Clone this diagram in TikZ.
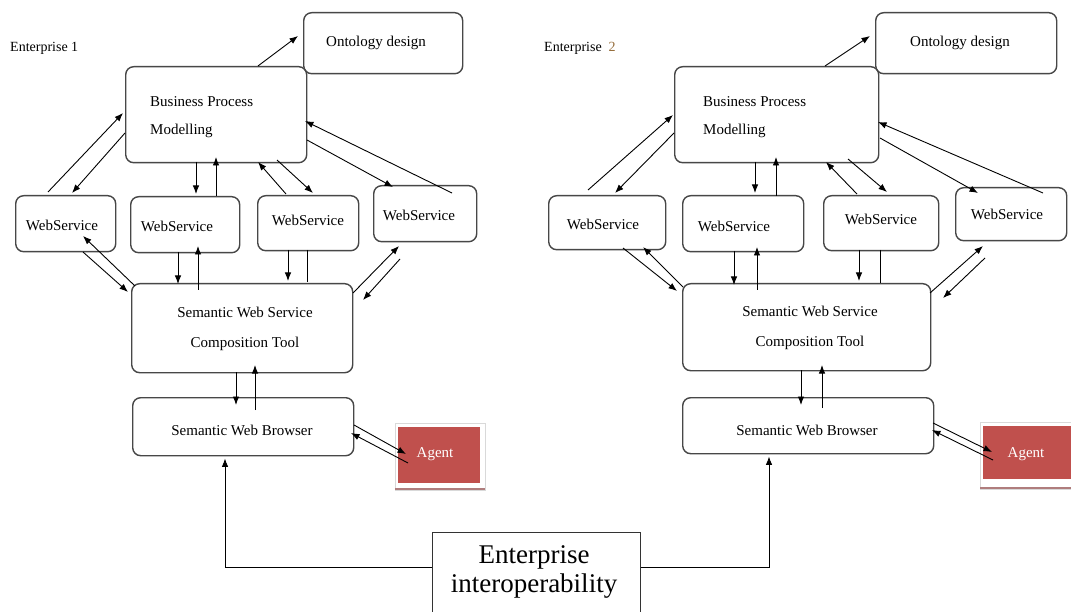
\documentclass[tikz,border=0pt]{standalone}
\usepackage{fontspec}
\setmainfont{Liberation Serif}
\usetikzlibrary{arrows.meta,calc}
\definecolor{agentred}{RGB}{192,80,77}
\definecolor{shadowred}{RGB}{175,125,125}
\definecolor{digitcol}{RGB}{150,110,60}
\begin{document}
\begin{tikzpicture}[x=1pt,y=-1pt,
  box/.style={draw=black!72, line width=1.4pt, rounded corners=8pt, inner sep=0pt, anchor=north west},
  agentbox/.style={fill=agentred, draw=none, inner sep=0pt, anchor=north west},
  eibox/.style={draw=black!80, line width=1.3pt, fill=white, inner sep=0pt, anchor=north west},
  lbl/.style={font=\fontsize{15}{18}\selectfont, inner sep=0pt, anchor=base},
  lblw/.style={lbl, anchor=base west},
  big/.style={font=\fontsize{27}{32}\selectfont, inner sep=0pt, anchor=base},
  arr/.style={-{Latex[length=8.5pt,width=6.5pt]}, line width=0.9pt},
  ln/.style={line width=0.9pt}]
\useasboundingbox (0,0) rectangle (1071,612);
\fill[white] (0,0) rectangle (1071,612);

% agent shadows
\draw[black!15, fill=white] (395,423) rectangle (485,490);
\draw[shadowred, line width=1.5pt] (395,489) -- (485,489);
\draw[black!15, fill=white] (980,422) rectangle (1075,489);
\draw[shadowred, line width=1.5pt] (980,488) -- (1075,488);

% ---------- Enterprise 1 ----------
\node[box, minimum width=159pt, minimum height=61pt] (ontA) at (303,12) {};
\node[box, minimum width=181pt, minimum height=96pt] (bpmA) at (125,66) {};
\node[box, minimum width=100pt, minimum height=56pt] (ws1A) at (15,195) {};
\node[box, minimum width=109pt, minimum height=56pt] (ws2A) at (130,196) {};
\node[box, minimum width=101pt, minimum height=55pt] (ws3A) at (257,195) {};
\node[box, minimum width=103pt, minimum height=56pt] (ws4A) at (373,185) {};
\node[box, minimum width=221pt, minimum height=89pt] (swsA) at (131,283) {};
\node[box, minimum width=221pt, minimum height=58pt] (swbA) at (132,397) {};
\node[agentbox, minimum width=82pt, minimum height=56pt] (agA) at (398,427) {};

\node[lblw, font=\fontsize{14}{17}\selectfont] (e1) at (10,52) {Enterprise 1};
\node[lbl] (ontAt) at (376,47) {Ontology design};
\node[lblw] (bpmAt1) at (150,107) {Business Process};
\node[lblw] (bpmAt2) at (150,135) {Modelling};
\node[lbl] (ws1At) at (62,231) {WebService};
\node[lbl] (ws2At) at (177,232) {WebService};
\node[lbl] (ws3At) at (308,226) {WebService};
\node[lbl] (ws4At) at (419,221) {WebService};
\node[lbl] (swsAt1) at (245,318) {Semantic Web Service};
\node[lbl] (swsAt2) at (245,348) {Composition Tool};
\node[lbl] (swbAt) at (242,435) {Semantic Web Browser};
\node[lbl, text=white] (agAt) at (435,457) {Agent};

% ---------- Enterprise 2 ----------
\node[box, minimum width=181pt, minimum height=61pt] (ontB) at (875,12) {};
\node[box, minimum width=204pt, minimum height=96pt] (bpmB) at (674,66) {};
\node[box, minimum width=117pt, minimum height=54pt] (ws1B) at (548,195) {};
\node[box, minimum width=121pt, minimum height=56pt] (ws2B) at (682,195) {};
\node[box, minimum width=115pt, minimum height=55pt] (ws3B) at (823,195) {};
\node[box, minimum width=111pt, minimum height=53pt] (ws4B) at (955,187) {};
\node[box, minimum width=248pt, minimum height=87pt] (swsB) at (682,283) {};
\node[box, minimum width=251pt, minimum height=56pt] (swbB) at (682,397) {};
\node[agentbox, minimum width=100pt, minimum height=53pt] (agB) at (983,426) {};

\node[lblw, font=\fontsize{14}{17}\selectfont] (e2) at (544,52) {Enterprise\ \ \textcolor{digitcol}{2}};
\node[lbl] (ontBt) at (960,47) {Ontology design};
\node[lblw] (bpmBt1) at (703,107) {Business Process};
\node[lblw] (bpmBt2) at (703,135) {Modelling};
\node[lbl] (ws1Bt) at (603,230) {WebService};
\node[lbl] (ws2Bt) at (734,232) {WebService};
\node[lbl] (ws3Bt) at (881,225) {WebService};
\node[lbl] (ws4Bt) at (1007,220) {WebService};
\node[lbl] (swsBt1) at (810,317) {Semantic Web Service};
\node[lbl] (swsBt2) at (810,347) {Composition Tool};
\node[lbl] (swbBt) at (807,435) {Semantic Web Browser};
\node[lbl, text=white] (agBt) at (1026,457) {Agent};

% ---------- Enterprise interoperability ----------
\node[eibox, minimum width=208pt, minimum height=95pt] (ei) at (432,532) {};
\node[big] (eit1) at (534,563) {Enterprise};
\node[big] (eit2) at (534,592) {interoperability};

% ---------- connectors, Enterprise 1 ----------
\draw[arr] ($(bpmA.north west)+(133,0)$) -- ($(ontA.north west)+(-5,24)$);
\draw[arr] ($(ws1A.north west)+(33,-3)$) -- ($(bpmA.north west)+(-2,47)$);
\draw[arr] ($(bpmA.north west)+(0,67)$) -- ($(ws1A.north west)+(57,-2)$);
\draw[arr] ($(bpmA.north west)+(71,96)$) -- ($(ws2A.north west)+(66,-2)$);
\draw[arr] ($(ws2A.north west)+(86,0)$) -- ($(bpmA.north west)+(91,91)$);
\draw[arr] ($(ws3A.north west)+(29,-1)$) -- ($(bpmA.north west)+(133,96)$);
\draw[arr] ($(bpmA.north west)+(152,94)$) -- ($(ws3A.north west)+(56,-2)$);
\draw[arr] ($(bpmA.north west)+(182,74)$) -- ($(ws4A.north west)+(20,2)$);
\draw[arr] ($(ws4A.north west)+(79,8)$) -- ($(bpmA.north west)+(180,55)$);
\draw[arr] ($(ws1A.north west)+(68,57)$) -- ($(swsA.north west)+(-3,9)$);
\draw[arr] ($(swsA.north west)+(4,3)$) -- ($(ws1A.north west)+(68,41)$);
\draw[arr] ($(ws2A.north west)+(48,56)$) -- ($(swsA.north west)+(47,1)$);
\draw[arr] ($(swsA.north west)+(67,7)$) -- ($(ws2A.north west)+(68,50)$);
\draw[arr] ($(ws3A.north west)+(31,55)$) -- ($(swsA.north west)+(157,-2)$);
\draw[ln]  ($(ws3A.north west)+(50,55)$) -- ($(swsA.north west)+(176,-1)$);
\draw[arr] ($(swsA.north west)+(222,10)$) -- ($(ws4A.north west)+(26,61)$);
\draw[arr] ($(ws4A.north west)+(27,74)$) -- ($(swsA.north west)+(232,17)$);
\draw[arr] ($(swsA.north west)+(105,89)$) -- ($(swbA.north west)+(104,8)$);
\draw[arr] ($(swbA.north west)+(123,13)$) -- ($(swsA.north west)+(124,82)$);
\draw[arr] ($(swbA.north west)+(222,28)$) -- ($(agA.north west)+(8,27)$);
\draw[arr] ($(agA.north west)+(10,36)$) -- ($(swbA.north west)+(219,36)$);

% ---------- connectors, Enterprise 2 ----------
\draw[arr] ($(bpmB.north west)+(151,0)$) -- ($(ontB.north west)+(-5,24)$);
\draw[arr] ($(ws1B.north west)+(40,-5)$) -- ($(bpmB.north west)+(-1,49)$);
\draw[arr] ($(bpmB.north west)+(0,67)$) -- ($(ws1B.north west)+(67,-2)$);
\draw[arr] ($(bpmB.north west)+(81,96)$) -- ($(ws2B.north west)+(73,-2)$);
\draw[arr] ($(ws2B.north west)+(94,1)$) -- ($(bpmB.north west)+(102,91)$);
\draw[arr] ($(ws3B.north west)+(34,-1)$) -- ($(bpmB.north west)+(152,96)$);
\draw[arr] ($(bpmB.north west)+(174,93)$) -- ($(ws3B.north west)+(64,-3)$);
\draw[arr] ($(bpmB.north west)+(206,72)$) -- ($(ws4B.north west)+(23,6)$);
\draw[arr] ($(ws4B.north west)+(88,6)$) -- ($(bpmB.north west)+(204,56)$);
\draw[arr] ($(ws1B.north west)+(75,53)$) -- ($(swsB.north west)+(-5,8)$);
\draw[arr] ($(swsB.north west)+(1,4)$) -- ($(ws1B.north west)+(95,52)$);
\draw[arr] ($(ws2B.north west)+(52,56)$) -- ($(swsB.north west)+(52,2)$);
\draw[arr] ($(swsB.north west)+(75,7)$) -- ($(ws2B.north west)+(75,52)$);
\draw[arr] ($(ws3B.north west)+(36,55)$) -- ($(swsB.north west)+(177,-2)$);
\draw[ln]  ($(ws3B.north west)+(57,55)$) -- ($(swsB.north west)+(198,0)$);
\draw[arr] ($(swsB.north west)+(248,10)$) -- ($(ws4B.north west)+(28,59)$);
\draw[arr] ($(ws4B.north west)+(30,71)$) -- ($(swsB.north west)+(261,15)$);
\draw[arr] ($(swsB.north west)+(119,87)$) -- ($(swbB.north west)+(119,8)$);
\draw[arr] ($(swbB.north west)+(140,11)$) -- ($(swsB.north west)+(140,82)$);
\draw[arr] ($(swbB.north west)+(251,26)$) -- ($(agB.north west)+(9,26)$);
\draw[arr] ($(agB.north west)+(10,34)$) -- ($(swbB.north west)+(250,33)$);

% ---------- interoperability links ----------
\draw[arr] ($(ei.north west)+(0,35)$) -| ($(swbA.south west)+(93,2)$);
\draw[arr] ($(ei.north east)+(0,35)$) -| ($(swbB.south west)+(87,2)$);
\end{tikzpicture}
\end{document}
